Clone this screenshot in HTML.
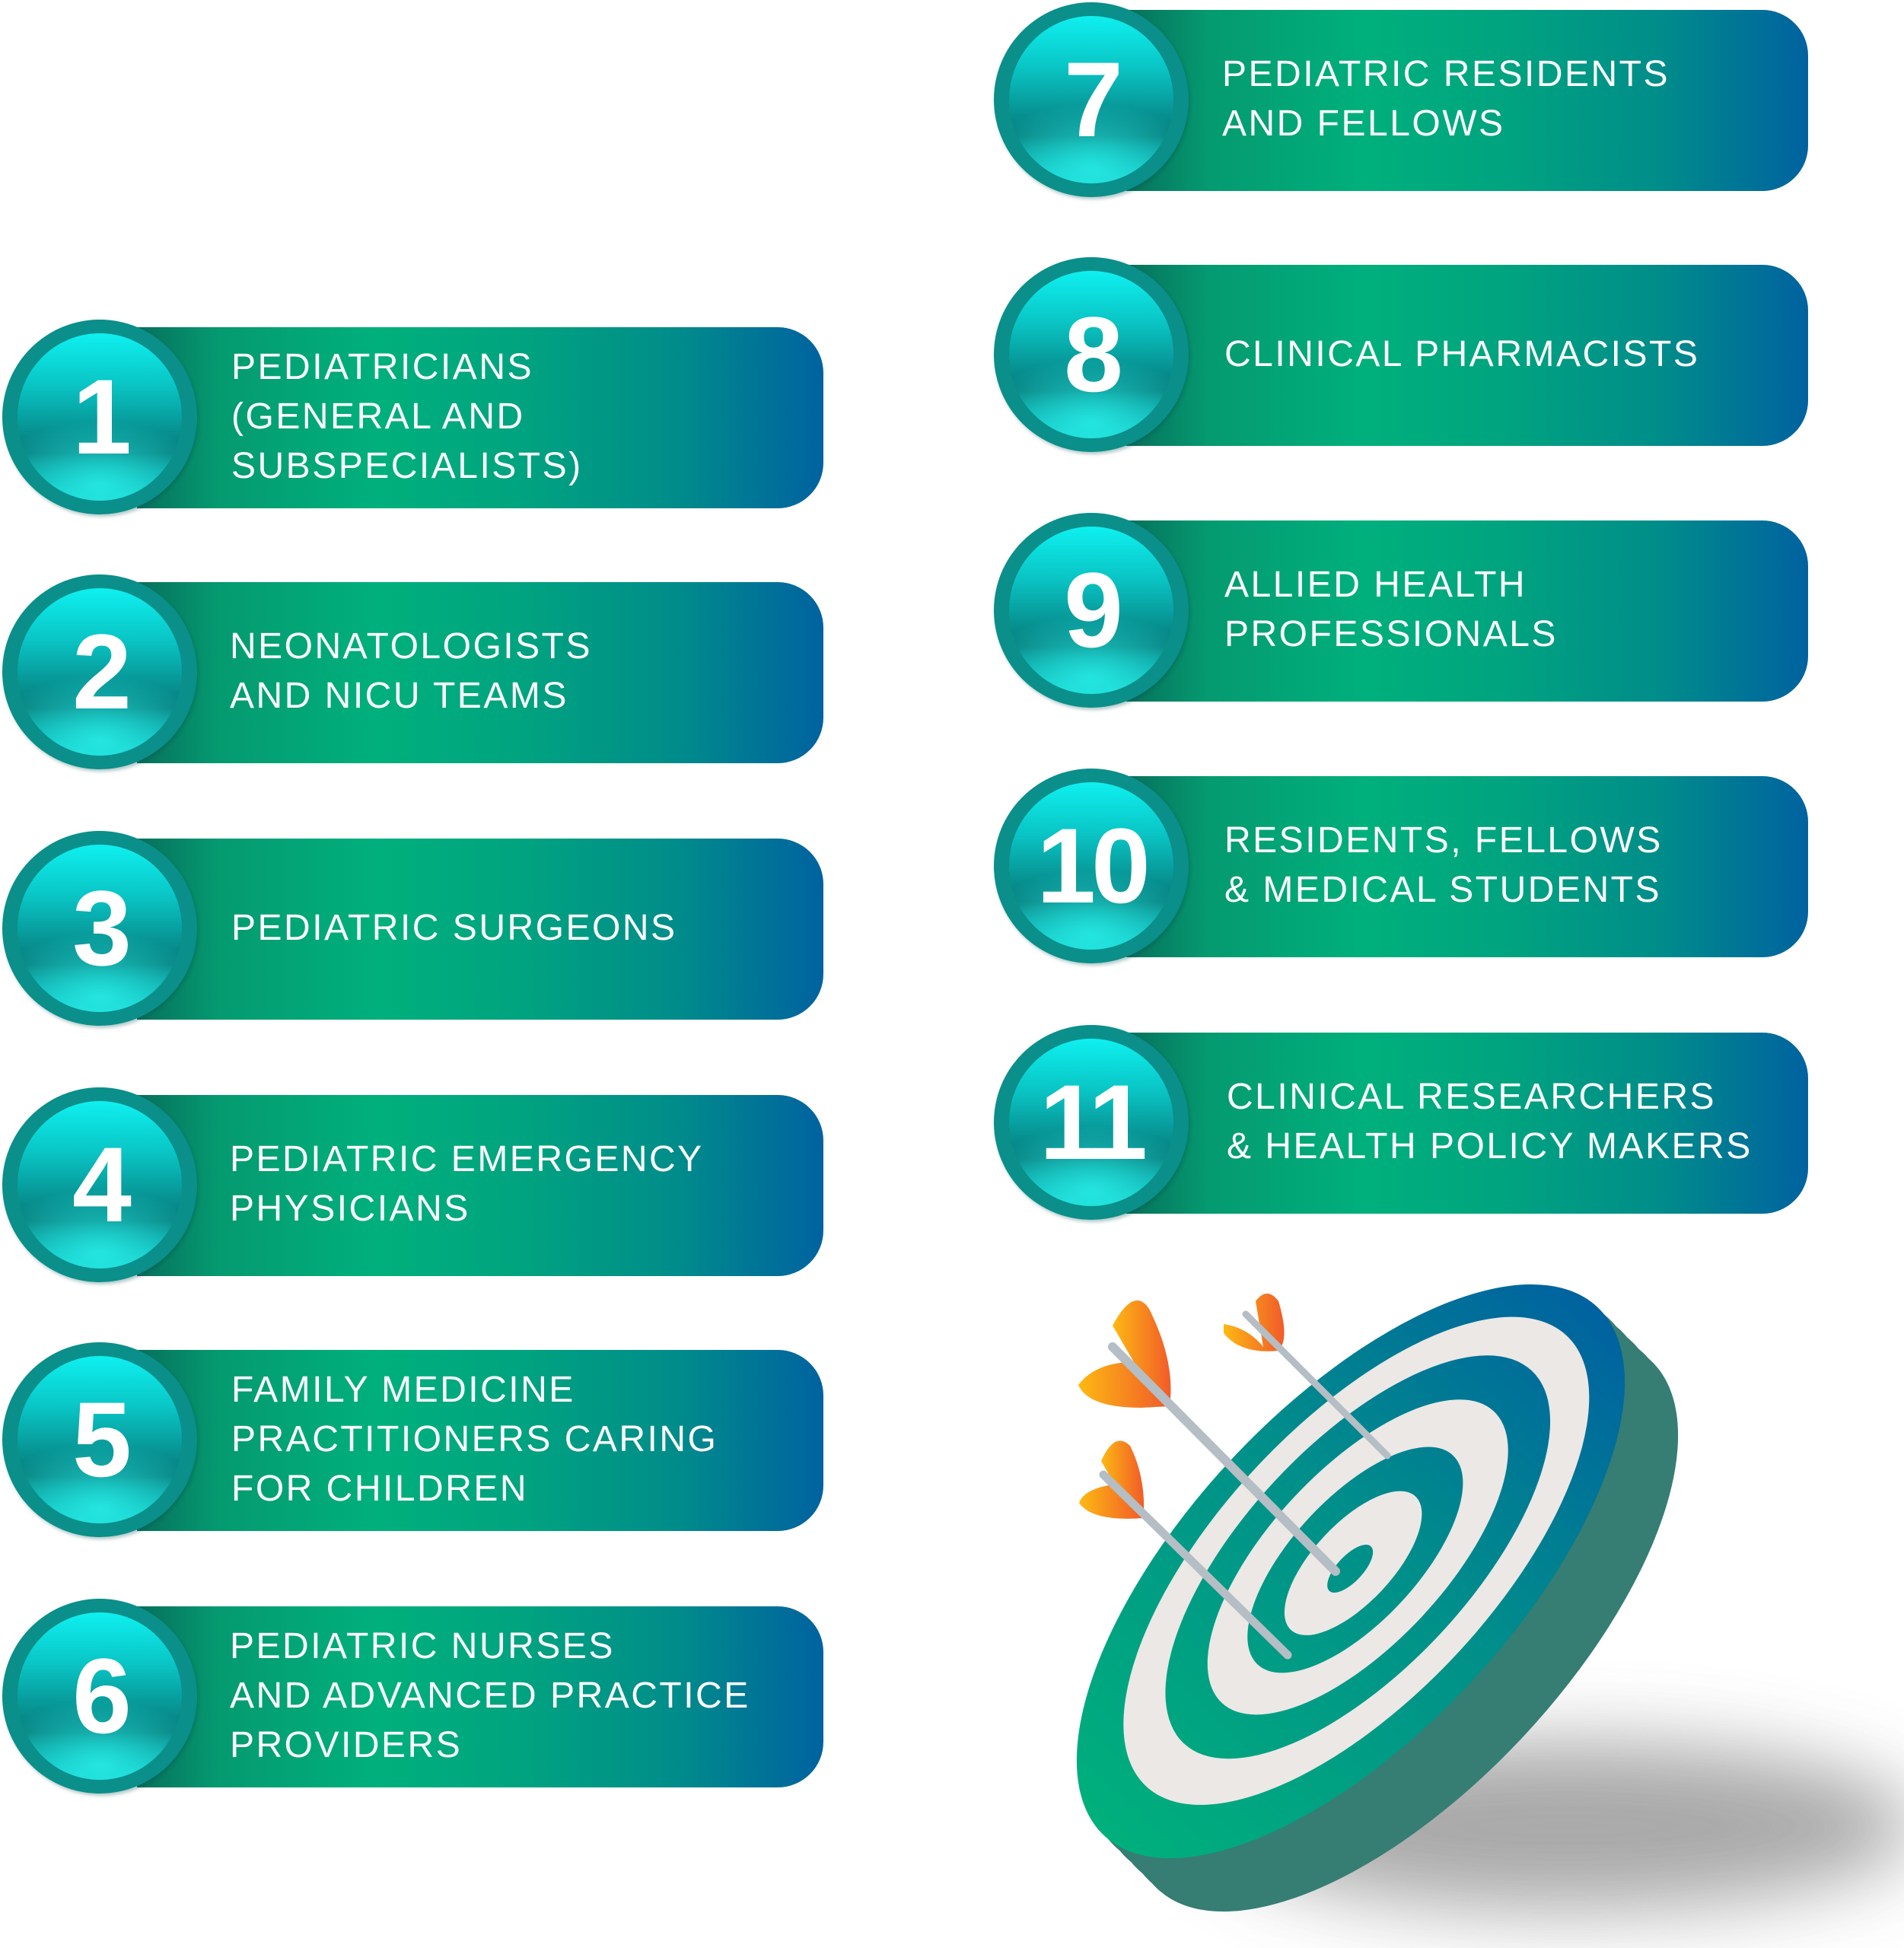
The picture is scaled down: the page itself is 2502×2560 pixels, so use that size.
<!DOCTYPE html>
<html><head><meta charset="utf-8"><style>
body{margin:0;width:2502px;height:2560px;background:#fff;position:relative;overflow:hidden;font-family:"Liberation Sans",sans-serif}
.bar{position:absolute;height:238px;border-radius:0 60px 60px 0;background:linear-gradient(90deg,#07705c 0%,#059a70 12%,#00b07c 35%,#00a47f 55%,#008d8a 78%,#0062a0 100%);display:flex;align-items:center;color:#fff;font-size:48px;line-height:65px;letter-spacing:2.5px;box-sizing:border-box;padding-bottom:4px}
.c{position:absolute;width:256px;height:256px;border-radius:50%;background:#0a8f8a;box-shadow:2px 3px 4px rgba(0,80,80,.3)}
.c::before{content:"";position:absolute;left:20px;top:18px;width:216px;height:220px;border-radius:50%;background:radial-gradient(ellipse 70% 40% at 50% 92%,#25e5e0 0%,rgba(20,200,200,0) 100%),linear-gradient(180deg,#0ff0f0 0%,#0ac6c6 30%,#067878 72%,#0aa8a8 88%,#18d8d8 100%)}
.c span{position:absolute;inset:0;display:flex;align-items:center;justify-content:center;color:#fff;font-weight:bold;font-size:140px;z-index:1;letter-spacing:-6px}
</style></head><body>
<div class="bar" style="left:180px;top:430px;width:902px;padding-left:124px">PEDIATRICIANS<br>(GENERAL AND<br>SUBSPECIALISTS)</div>
<div class="c" style="left:3px;top:420px"><span>1</span></div>
<div class="bar" style="left:180px;top:765px;width:902px;padding-left:122px">NEONATOLOGISTS<br>AND NICU TEAMS</div>
<div class="c" style="left:3px;top:755px"><span>2</span></div>
<div class="bar" style="left:180px;top:1102px;width:902px;padding-left:124px">PEDIATRIC SURGEONS</div>
<div class="c" style="left:3px;top:1092px"><span>3</span></div>
<div class="bar" style="left:180px;top:1439px;width:902px;padding-left:122px">PEDIATRIC EMERGENCY<br>PHYSICIANS</div>
<div class="c" style="left:3px;top:1429px"><span>4</span></div>
<div class="bar" style="left:180px;top:1774px;width:902px;padding-left:124px">FAMILY MEDICINE<br>PRACTITIONERS CARING<br>FOR CHILDREN</div>
<div class="c" style="left:3px;top:1764px"><span>5</span></div>
<div class="bar" style="left:180px;top:2111px;width:902px;padding-left:122px">PEDIATRIC NURSES<br>AND ADVANCED PRACTICE<br>PROVIDERS</div>
<div class="c" style="left:3px;top:2101px"><span>6</span></div>
<div class="bar" style="left:1480px;top:13px;width:896px;padding-left:126px">PEDIATRIC RESIDENTS<br>AND FELLOWS</div>
<div class="c" style="left:1306px;top:3px"><span>7</span></div>
<div class="bar" style="left:1480px;top:348px;width:896px;padding-left:129px">CLINICAL PHARMACISTS</div>
<div class="c" style="left:1306px;top:338px"><span>8</span></div>
<div class="bar" style="left:1480px;top:684px;width:896px;padding-left:129px">ALLIED HEALTH<br>PROFESSIONALS</div>
<div class="c" style="left:1306px;top:674px"><span>9</span></div>
<div class="bar" style="left:1480px;top:1020px;width:896px;padding-left:129px">RESIDENTS, FELLOWS<br>&amp; MEDICAL STUDENTS</div>
<div class="c" style="left:1306px;top:1010px"><span>10</span></div>
<div class="bar" style="left:1480px;top:1357px;width:896px;padding-left:132px">CLINICAL RESEARCHERS<br>&amp; HEALTH POLICY MAKERS</div>
<div class="c" style="left:1306px;top:1347px"><span>11</span></div>
<svg style="position:absolute;left:0;top:0" width="2502" height="2560">
<defs>
<linearGradient id="tg" gradientUnits="userSpaceOnUse" x1="-475" y1="0" x2="475" y2="0"><stop offset="0" stop-color="#00b07c"/><stop offset=".55" stop-color="#008f8a"/><stop offset="1" stop-color="#0062a0"/></linearGradient>
<linearGradient id="fin" x1="0" y1="0" x2="1" y2="0"><stop offset="0" stop-color="#fdb913"/><stop offset="1" stop-color="#f15a29"/></linearGradient>
<filter id="bl" x="-50%" y="-100%" width="200%" height="300%"><feGaussianBlur stdDeviation="50"/></filter>
</defs>
<ellipse cx="2060" cy="2400" rx="460" ry="110" fill="#9a9a9a" filter="url(#bl)" opacity=".85"/>
<g fill="#367d74">
<ellipse rx="475" ry="215" transform="translate(1790 2080) rotate(-47)"/>
<ellipse rx="475" ry="215" transform="translate(1805 2095) rotate(-47)"/>
<ellipse rx="475" ry="215" transform="translate(1820 2110) rotate(-47)"/>
<ellipse rx="475" ry="215" transform="translate(1835 2125) rotate(-47)"/>
<ellipse rx="475" ry="215" transform="translate(1845 2135) rotate(-47)"/>
</g>
<g transform="translate(1775 2065) rotate(-47)">
<ellipse rx="475" ry="215" fill="url(#tg)"/>
<ellipse cx="15" cy="-4" rx="405" ry="180" fill="#ebe8e5"/>
<ellipse cx="20" cy="-6" rx="335" ry="148" fill="url(#tg)"/>
<ellipse cx="20" cy="-6" rx="262" ry="115" fill="#ebe8e5"/>
<ellipse cx="15" cy="-6" rx="188" ry="82" fill="url(#tg)"/>
<ellipse cx="10" cy="-5" rx="120" ry="52" fill="#ebe8e5"/>
<ellipse cx="2" cy="-3" rx="40" ry="17" fill="url(#tg)"/>
</g>
<g>
<path d="M1462 1742 Q1490 1690 1510 1720 Q1545 1790 1537 1848 L1490 1790 Z" fill="url(#fin)"/>
<path d="M1490 1790 Q1440 1790 1417 1820 Q1430 1850 1500 1850 L1537 1848 Z" fill="url(#fin)"/>
<line x1="1462" y1="1770" x2="1755" y2="2065" stroke="#b4bec4" stroke-width="12" stroke-linecap="round"/>
<path d="M1608 1740 Q1640 1745 1660 1770 L1650 1710 Q1665 1690 1680 1710 Q1695 1760 1680 1775 Q1630 1780 1608 1752 Z" fill="url(#fin)"/>
<line x1="1637" y1="1727" x2="1823" y2="1913" stroke="#b4bec4" stroke-width="9" stroke-linecap="round"/>
<path d="M1447 1920 Q1465 1880 1485 1900 Q1505 1940 1503 1990 L1470 1960 Z" fill="url(#fin)"/>
<path d="M1470 1950 Q1425 1955 1418 1975 Q1435 2000 1503 1995 Z" fill="url(#fin)"/>
<line x1="1450" y1="1938" x2="1692" y2="2175" stroke="#b4bec4" stroke-width="11" stroke-linecap="round"/>
</g>
</svg>
</body></html>
